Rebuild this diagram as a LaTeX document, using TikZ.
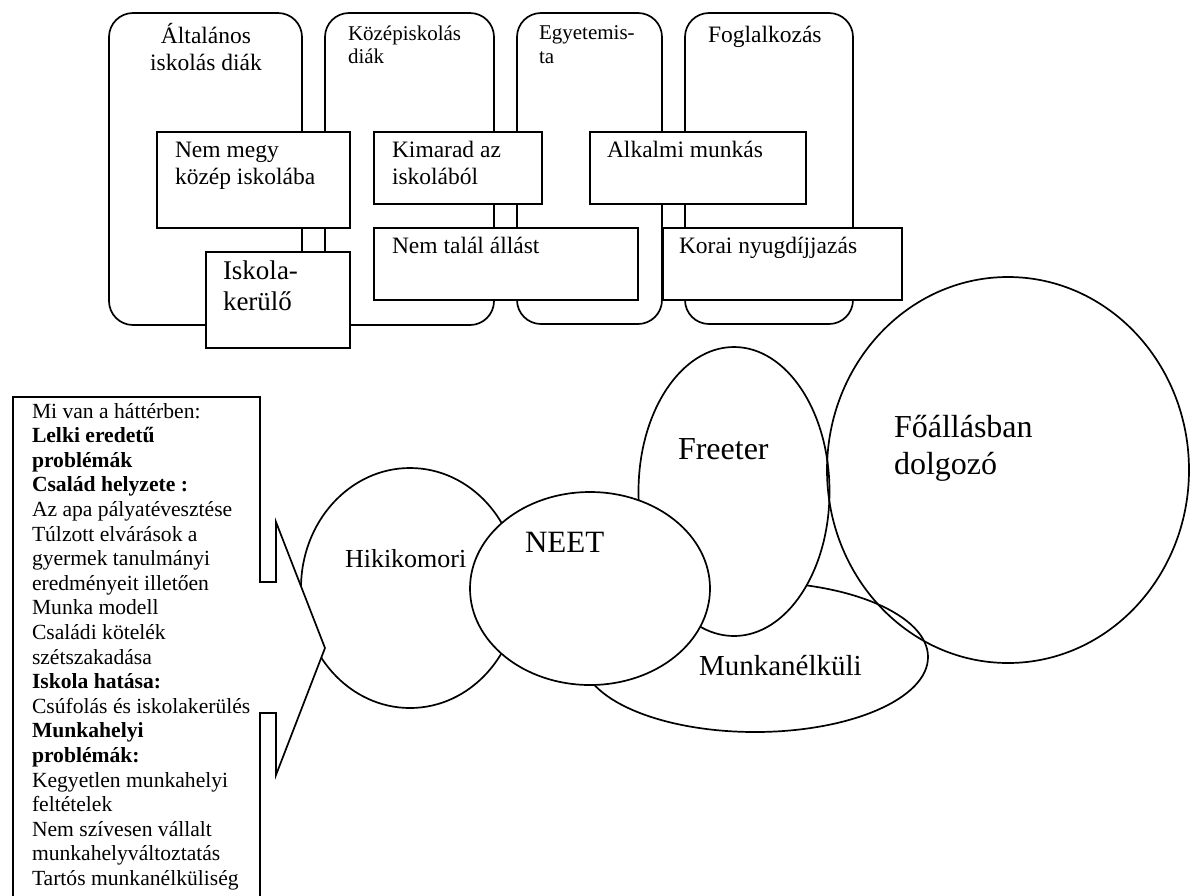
\documentclass[tikz,border=0pt]{standalone}
\usepackage{fontspec}
\setmainfont{Liberation Serif}
\usetikzlibrary{shapes.geometric}
\newcommand{\stackL}[2]{\vtop{\baselineskip=#1\relax\lineskiplimit=-\maxdimen\halign{##\hfil\cr#2\crcr}}}
\newcommand{\stackC}[2]{\vtop{\baselineskip=#1\relax\lineskiplimit=-\maxdimen\halign{\hfil##\hfil\cr#2\crcr}}}
\newcommand{\fA}{\fontsize{23.5}{27.6}\selectfont}
\newcommand{\fB}{\fontsize{21}{24}\selectfont}
\newcommand{\fC}{\fontsize{21.6}{24.6}\selectfont}
\tikzset{
  ln/.style={line width=1.7pt},
  rbox/.style={draw, ln, rounded corners=24pt, fill=white, inner sep=0pt, outer sep=0pt, anchor=north west},
  sbox/.style={draw, ln, fill=white, inner sep=0pt, outer sep=0pt, anchor=north west},
  oval/.style={draw, ln, ellipse, inner sep=0pt, outer sep=0pt},
  txt/.style={inner sep=0pt, outer sep=0pt, anchor=base west},
}
\begin{document}
\begin{tikzpicture}[x=1pt,y=-1pt]
\useasboundingbox (0,0) rectangle (1196,895);
\clip (0,0) rectangle (1196,895);
% stage boxes
\node[rbox, minimum width=193pt, minimum height=312pt] (b1) at (109,13) {};
\node[rbox, minimum width=169pt, minimum height=312pt] (b2) at (325,13) {};
\node[rbox, minimum width=145pt, minimum height=311pt] (b3) at (517,13) {};
\node[rbox, minimum width=168pt, minimum height=311pt] (b4) at (685,13) {};
\node[txt, anchor=base, font=\fA] (t1) at (206,43) {\stackC{27.6pt}{Általános\cr iskolás diák}};
\node[txt, font=\fB] (t2) at (348,40) {\stackL{23pt}{Középiskolás\cr diák}};
\node[txt, font=\fB] (t3) at (539,39) {\stackL{24pt}{Egyetemis-\cr ta}};
\node[txt, font=\fA] (t4) at (708,42) {Foglalkozás};
% transition boxes
\node[sbox, minimum width=193pt, minimum height=96pt] (r1) at (157,132) {};
\node[sbox, minimum width=144pt, minimum height=96pt] (r2) at (206,252) {};
\node[sbox, minimum width=168pt, minimum height=72pt] (r3) at (374,132) {};
\node[sbox, minimum width=264pt, minimum height=72pt] (r4) at (374,228) {};
\node[sbox, minimum width=216pt, minimum height=72pt] (r5) at (590,132) {};
\node[sbox, minimum width=239pt, minimum height=72pt] (r6) at (663,228) {};
\node[txt, font=\fA] (s1) at (175,157) {\stackL{27.6pt}{Nem megy\cr közép iskolába}};
\node[txt, font=\fontsize{27}{31}\selectfont] (s2) at (223,279) {\stackL{31pt}{Iskola-\cr kerülő}};
\node[txt, font=\fA] (s3) at (392,157) {\stackL{27.6pt}{Kimarad az\cr iskolából}};
\node[txt, font=\fA] (s4) at (392,253) {Nem talál állást};
\node[txt, font=\fA] (s5) at (607,157) {Alkalmi munkás};
\node[txt, font=\fA] (s6) at (679,253) {Korai nyugdíjjazás};
% ovals
\node[oval, fill=white, minimum width=346pt, minimum height=150pt] (munk) at (755,657) {};
\node[oval, fill=white, minimum width=191pt, minimum height=289pt] (free) at (734,491.5) {};
\node[oval, fill=white, minimum width=218pt, minimum height=240pt] (hiki) at (410,588) {};
\node[oval, fill=white, minimum width=240pt, minimum height=193pt] (neet) at (590,588.5) {};
\node[oval, minimum width=362pt, minimum height=386pt] (foal) at (1008,470) {};
\node[txt, font=\fontsize{29}{33}\selectfont] (lmunk) at (699,675) {Munkanélküli};
\node[txt, font=\fontsize{32}{37}\selectfont] (lfree) at (678,459) {Freeter};
\node[txt, font=\fontsize{26}{30}\selectfont] (lhiki) at (345,567) {Hikikomori};
\node[txt, font=\fontsize{31}{35}\selectfont] (lneet) at (525,552) {NEET};
\node[txt, font=\fontsize{32}{37}\selectfont] (lfoal) at (894,437) {\stackL{37pt}{Főállásban\cr dolgozó}};
% callout
\draw[ln, fill=white] (13,900) -- (13,397) -- (260,397) -- (260,582) -- (276,582) -- (276,522)
  -- (325,648) -- (276,775) -- (276,713) -- (260,713) -- (260,900);
\node[txt, font=\fC] (bg) at (32,418) {\stackL{24.6pt}{Mi van a háttérben:\cr
\textbf{Lelki eredetű}\cr
\textbf{problémák}\cr
\textbf{Család helyzete :}\cr
Az apa pályatévesztése\cr
Túlzott elvárások a\cr
gyermek tanulmányi\cr
eredményeit illetően\cr
Munka modell\cr
Családi kötelék\cr
szétszakadása\cr
\textbf{Iskola hatása:}\cr
Csúfolás és iskolakerülés\cr
\textbf{Munkahelyi}\cr
\textbf{problémák:}\cr
Kegyetlen munkahelyi\cr
feltételek\cr
Nem szívesen vállalt\cr
munkahelyváltoztatás\cr
Tartós munkanélküliség}};
\end{tikzpicture}
\end{document}
